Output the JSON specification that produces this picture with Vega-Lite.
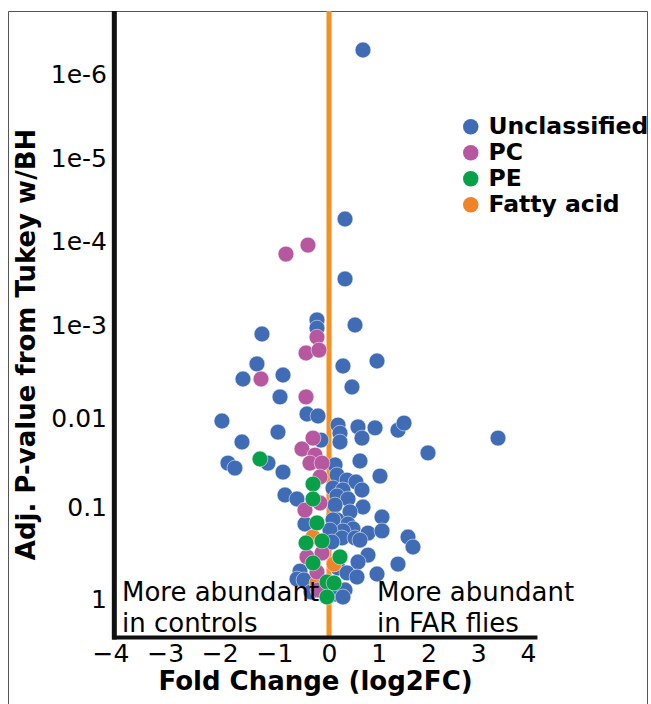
{
  "$schema": "https://vega.github.io/schema/vega-lite/v6.json",
  "width": 639,
  "height": 693,
  "autosize": {"type": "none"},
  "padding": {"left": 8, "top": 11, "right": 4, "bottom": 0},
  "background": "white",
  "config": {
    "view": {"stroke": "#555555", "strokeWidth": 1},
    "font": "DejaVu Sans"
  },
  "datasets": {
    "points": [
      {"x": 0.683, "p": 5.18e-7, "c": "Unclassified"},
      {"x": 0.322, "p": 5.43e-5, "c": "Unclassified"},
      {"x": 0.322, "p": 2.83e-4, "c": "Unclassified"},
      {"x": 0.523, "p": 1.0e-3, "c": "Unclassified"},
      {"x": 0.281, "p": 2.76e-3, "c": "Unclassified"},
      {"x": 0.965, "p": 2.44e-3, "c": "Unclassified"},
      {"x": 0.462, "p": 4.64e-3, "c": "Unclassified"},
      {"x": -0.22, "p": 8.71e-4, "c": "Unclassified"},
      {"x": -0.22, "p": 1.08e-3, "c": "Unclassified"},
      {"x": -1.227, "p": 1.25e-3, "c": "Unclassified"},
      {"x": -1.319, "p": 2.62e-3, "c": "Unclassified"},
      {"x": -1.575, "p": 3.81e-3, "c": "Unclassified"},
      {"x": -0.842, "p": 3.45e-3, "c": "Unclassified"},
      {"x": -0.897, "p": 5.94e-3, "c": "Unclassified"},
      {"x": -1.96, "p": 0.0108, "c": "Unclassified"},
      {"x": -0.403, "p": 9.06e-3, "c": "Unclassified"},
      {"x": -0.201, "p": 9.51e-3, "c": "Unclassified"},
      {"x": 0.181, "p": 0.012, "c": "Unclassified"},
      {"x": 0.221, "p": 0.0148, "c": "Unclassified"},
      {"x": 0.221, "p": 0.0186, "c": "Unclassified"},
      {"x": 0.583, "p": 0.0126, "c": "Unclassified"},
      {"x": 0.663, "p": 0.0168, "c": "Unclassified"},
      {"x": 0.925, "p": 0.0129, "c": "Unclassified"},
      {"x": 1.387, "p": 0.0137, "c": "Unclassified"},
      {"x": 1.508, "p": 0.0114, "c": "Unclassified"},
      {"x": -0.934, "p": 0.0144, "c": "Unclassified"},
      {"x": -1.593, "p": 0.0186, "c": "Unclassified"},
      {"x": -0.147, "p": 0.0177, "c": "Unclassified"},
      {"x": -1.85, "p": 0.0321, "c": "Unclassified"},
      {"x": -1.722, "p": 0.0365, "c": "Unclassified"},
      {"x": -1.117, "p": 0.0321, "c": "Unclassified"},
      {"x": -0.842, "p": 0.0405, "c": "Unclassified"},
      {"x": 3.397, "p": 0.0168, "c": "Unclassified"},
      {"x": 1.99, "p": 0.0247, "c": "Unclassified"},
      {"x": 0.623, "p": 0.0304, "c": "Unclassified"},
      {"x": 0.121, "p": 0.0337, "c": "Unclassified"},
      {"x": 1.025, "p": 0.0449, "c": "Unclassified"},
      {"x": 0.161, "p": 0.0437, "c": "Unclassified"},
      {"x": 0.362, "p": 0.0498, "c": "Unclassified"},
      {"x": 0.543, "p": 0.0524, "c": "Unclassified"},
      {"x": 0.08, "p": 0.0612, "c": "Unclassified"},
      {"x": 0.281, "p": 0.0644, "c": "Unclassified"},
      {"x": 0.663, "p": 0.0644, "c": "Unclassified"},
      {"x": -0.806, "p": 0.0733, "c": "Unclassified"},
      {"x": -0.586, "p": 0.0813, "c": "Unclassified"},
      {"x": 0.161, "p": 0.0752, "c": "Unclassified"},
      {"x": 0.382, "p": 0.0813, "c": "Unclassified"},
      {"x": 0.121, "p": 0.0951, "c": "Unclassified"},
      {"x": 0.683, "p": 0.1, "c": "Unclassified"},
      {"x": 0.422, "p": 0.113, "c": "Unclassified"},
      {"x": 1.065, "p": 0.1285, "c": "Unclassified"},
      {"x": -0.44, "p": 0.153, "c": "Unclassified"},
      {"x": 0.161, "p": 0.138, "c": "Unclassified"},
      {"x": 0.08, "p": 0.138, "c": "Unclassified"},
      {"x": 0.382, "p": 0.153, "c": "Unclassified"},
      {"x": 0.482, "p": 0.173, "c": "Unclassified"},
      {"x": 0.784, "p": 0.192, "c": "Unclassified"},
      {"x": 1.065, "p": 0.182, "c": "Unclassified"},
      {"x": 0.281, "p": 0.182, "c": "Unclassified"},
      {"x": 0.02, "p": 0.178, "c": "Unclassified"},
      {"x": 0.261, "p": 0.217, "c": "Unclassified"},
      {"x": 0.523, "p": 0.217, "c": "Unclassified"},
      {"x": 0.623, "p": 0.229, "c": "Unclassified"},
      {"x": 0.06, "p": 0.24, "c": "Unclassified"},
      {"x": 1.588, "p": 0.212, "c": "Unclassified"},
      {"x": 1.688, "p": 0.272, "c": "Unclassified"},
      {"x": 0.784, "p": 0.333, "c": "Unclassified"},
      {"x": 0.583, "p": 0.396, "c": "Unclassified"},
      {"x": 1.387, "p": 0.417, "c": "Unclassified"},
      {"x": 0.181, "p": 0.46, "c": "Unclassified"},
      {"x": 0.362, "p": 0.521, "c": "Unclassified"},
      {"x": 0.563, "p": 0.577, "c": "Unclassified"},
      {"x": 0.965, "p": 0.535, "c": "Unclassified"},
      {"x": -0.531, "p": 0.497, "c": "Unclassified"},
      {"x": -0.586, "p": 0.607, "c": "Unclassified"},
      {"x": -0.458, "p": 0.621, "c": "Unclassified"},
      {"x": 0.121, "p": 0.883, "c": "Unclassified"},
      {"x": 0.322, "p": 0.798, "c": "Unclassified"},
      {"x": -0.33, "p": 0.839, "c": "Unclassified"},
      {"x": 0.281, "p": 0.951, "c": "Unclassified"},
      {"x": -0.293, "p": 0.212, "c": "Fatty acid"},
      {"x": 0.101, "p": 0.417, "c": "Fatty acid"},
      {"x": -0.22, "p": 0.67, "c": "Fatty acid"},
      {"x": -0.385, "p": 1.117e-4, "c": "PC"},
      {"x": -0.788, "p": 1.43e-4, "c": "PC"},
      {"x": -0.22, "p": 1.35e-3, "c": "PC"},
      {"x": -0.421, "p": 2.0e-3, "c": "PC"},
      {"x": -0.183, "p": 1.86e-3, "c": "PC"},
      {"x": -1.245, "p": 3.81e-3, "c": "PC"},
      {"x": -0.421, "p": 5.94e-3, "c": "PC"},
      {"x": -0.293, "p": 0.0168, "c": "PC"},
      {"x": -0.495, "p": 0.0223, "c": "PC"},
      {"x": -0.256, "p": 0.0261, "c": "PC"},
      {"x": -0.348, "p": 0.0321, "c": "PC"},
      {"x": -0.128, "p": 0.0321, "c": "PC"},
      {"x": -0.165, "p": 0.046, "c": "PC"},
      {"x": -0.165, "p": 0.0902, "c": "PC"},
      {"x": -0.44, "p": 0.108, "c": "PC"},
      {"x": -0.128, "p": 0.316, "c": "PC"},
      {"x": -0.403, "p": 0.349, "c": "PC"},
      {"x": -0.22, "p": 0.509, "c": "PC"},
      {"x": -0.201, "p": 0.798, "c": "PC"},
      {"x": -1.264, "p": 0.0289, "c": "PE"},
      {"x": -0.293, "p": 0.0552, "c": "PE"},
      {"x": -0.293, "p": 0.0813, "c": "PE"},
      {"x": -0.22, "p": 0.149, "c": "PE"},
      {"x": -0.421, "p": 0.246, "c": "PE"},
      {"x": -0.128, "p": 0.234, "c": "PE"},
      {"x": 0.221, "p": 0.349, "c": "PE"},
      {"x": -0.293, "p": 0.406, "c": "PE"},
      {"x": -0.037, "p": 0.653, "c": "PE"},
      {"x": 0.101, "p": 0.67, "c": "PE"},
      {"x": -0.037, "p": 0.951, "c": "PE"}
    ]
  },
  "layer": [
    {
      "data": {"values": [{}]},
      "mark": {"type": "rule", "color": "#F7901E", "strokeWidth": 5},
      "encoding": {
        "x": {"datum": 0, "type": "quantitative"},
        "y": {"datum": 1.78e-7, "type": "quantitative"},
        "y2": {"datum": 2.62}
      }
    },
    {
      "data": {"name": "points"},
      "mark": {"type": "circle", "size": 250, "opacity": 1, "stroke": "white", "strokeWidth": 0.5},
      "encoding": {
        "x": {
          "field": "x",
          "type": "quantitative",
          "scale": {"domain": [-4, 0, 4], "range": [102.5, 321, 520], "nice": false, "zero": false},
          "axis": {
            "values": [-4, -3, -2, -1, 0, 1, 2, 3, 4],
            "format": "d",
            "orient": "bottom",
            "offset": -66,
            "domain": false,
            "ticks": false,
            "grid": false,
            "labelFont": "DejaVu Sans",
            "labelFontSize": 25,
            "labelColor": "black",
            "labelPadding": 3,
            "labelFlush": false,
            "labelOverlap": false,
            "title": "Fold Change (log2FC)",
            "titleFont": "DejaVu Sans",
            "titleFontSize": 26,
            "titleFontWeight": "bold",
            "titleColor": "black",
            "titleX": 307,
            "titleY": 51,
            "titleBaseline": "alphabetic"
          }
        },
        "y": {
          "field": "p",
          "type": "quantitative",
          "scale": {"type": "log", "domain": [1e-6, 1e-5, 1e-4, 1e-3, 0.01, 0.1, 1], "range": [63, 147, 230, 314, 407, 496, 588], "nice": false, "zero": false},
          "axis": {
            "values": [1e-6, 1e-5, 1e-4, 1e-3, 0.01, 0.1, 1],
            "labelExpr": "datum.value >= 0.5 ? '1' : datum.value >= 0.05 ? '0.1' : datum.value >= 0.005 ? '0.01' : datum.value >= 0.0005 ? '1e-3' : datum.value >= 0.00005 ? '1e-4' : datum.value >= 0.000005 ? '1e-5' : '1e-6'",
            "orient": "left",
            "offset": -106.5,
            "domain": false,
            "ticks": false,
            "grid": false,
            "labelFont": "DejaVu Sans",
            "labelFontSize": 25,
            "labelColor": "black",
            "labelPadding": 8,
            "labelFlush": false,
            "labelOverlap": false,
            "title": "Adj. P-value from Tukey w/BH",
            "titleFont": "DejaVu Sans",
            "titleFontSize": 26,
            "titleFontWeight": "bold",
            "titleColor": "black",
            "titleAngle": 270,
            "titleX": -80,
            "titleY": 333,
            "titleBaseline": "alphabetic"
          }
        },
        "color": {
          "field": "c",
          "type": "nominal",
          "scale": {
            "domain": ["Unclassified", "PC", "PE", "Fatty acid"],
            "range": ["#3F6CB5", "#B657A0", "#09A04A", "#F08429"]
          },
          "legend": {
            "orient": "none",
            "legendX": 451,
            "legendY": 104,
            "title": null,
            "padding": 0,
            "labelFont": "DejaVu Sans",
            "labelFontSize": 23.5,
            "labelFontWeight": "bold",
            "labelColor": "black",
            "labelOffset": 6,
            "rowPadding": 1,
            "symbolType": "circle",
            "symbolSize": 240,
            "symbolStrokeWidth": 0,
            "symbolOpacity": 1
          }
        }
      }
    },
    {
      "data": {"values": [{}]},
      "mark": {"type": "rule", "color": "#111111", "strokeWidth": 5},
      "encoding": {
        "x": {"datum": -3.93, "type": "quantitative"},
        "y": {"datum": 1.78e-7, "type": "quantitative"},
        "y2": {"datum": 2.76}
      }
    },
    {
      "data": {"values": [{}]},
      "mark": {"type": "rule", "color": "#111111", "strokeWidth": 4},
      "encoding": {
        "x": {"datum": -3.97, "type": "quantitative"},
        "x2": {"datum": 4.19},
        "y": {"datum": 2.62, "type": "quantitative"}
      }
    },
    {
      "data": {"values": [{}]},
      "mark": {"type": "text", "text": ["More abundant", "in controls"], "align": "left", "baseline": "alphabetic", "font": "DejaVu Sans", "fontSize": 26, "lineHeight": 31, "color": "black"},
      "encoding": {
        "x": {"datum": -3.79, "type": "quantitative"},
        "y": {"datum": 1.05, "type": "quantitative"}
      }
    },
    {
      "data": {"values": [{}]},
      "mark": {"type": "text", "text": ["More abundant", "in FAR flies"], "align": "left", "baseline": "alphabetic", "font": "DejaVu Sans", "fontSize": 26, "lineHeight": 31, "color": "black"},
      "encoding": {
        "x": {"datum": 0.965, "type": "quantitative"},
        "y": {"datum": 1.05, "type": "quantitative"}
      }
    }
  ]
}
